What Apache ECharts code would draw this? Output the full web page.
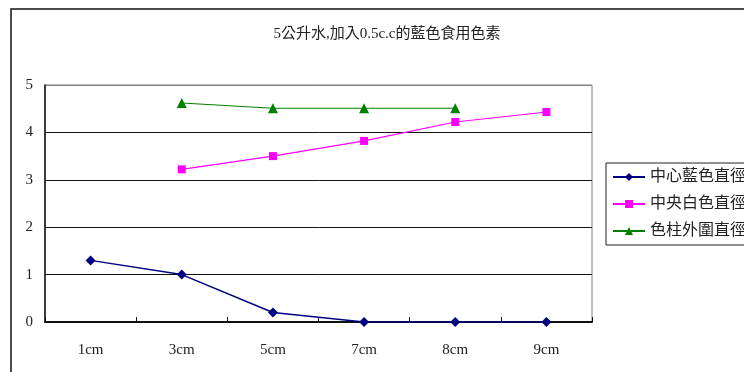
<!DOCTYPE html>
<html>
<head>
<meta charset="utf-8">
<script src="https://cdn.jsdelivr.net/npm/echarts@6/dist/echarts.min.js"></script>
<style>
  html, body { margin: 0; padding: 0; background: #fff; }
  #chart { width: 744px; height: 372px; }
</style>
</head>
<body>
<div id="chart"></div>
<script>
// Distance from the drop point, and measured diameters (cm)
const categories = ['1cm', '3cm', '5cm', '7cm', '8cm', '9cm'];
const centerBlue = [1.3, 1.0, 0.2, 0, 0, 0];
const centerWhite = [null, 3.22, 3.5, 3.82, 4.22, 4.43];
const outerRing = [null, 4.62, 4.51, 4.51, 4.51, null];
const yTicks = [0, 1, 2, 3, 4, 5];

const serif = '"Liberation Serif", "Noto Sans CJK TC", serif';
const cjk = '"Liberation Serif", "Noto Sans CJK TC", sans-serif';

const chart = echarts.init(document.getElementById('chart'), null, { renderer: 'canvas' });

chart.setOption({
  backgroundColor: '#fff',
  animation: false,
  title: {
    text: '5公升水,加入0.5c.c的藍色食用色素',
    left: 382,
    top: 22,
    textAlign: 'center',
    textStyle: { fontFamily: cjk, fontSize: 15, fontWeight: 'normal', color: '#222' }
  },
  graphic: [{
    type: 'rect',
    shape: { x: 11, y: 9, width: 900, height: 500 },
    style: { fill: null, stroke: '#111', lineWidth: 1.5 },
    silent: true,
    z: 0
  }],
  legend: {
    orient: 'vertical',
    left: 606,
    top: 163,
    itemWidth: 32,
    itemHeight: 10,
    itemGap: 11,
    padding: [6, 6, 6, 6],
    borderColor: '#222',
    borderWidth: 1,
    textStyle: { fontFamily: cjk, fontSize: 16, color: '#222' },
    data: ['中心藍色直徑', '中央白色直徑', '色柱外圍直徑']
  },
  grid: {
    left: 45, top: 85, right: 152, bottom: 50,
    show: true,
    borderColor: '#808080',
    borderWidth: 1,
    containLabel: false
  },
  xAxis: {
    type: 'category',
    data: categories,
    boundaryGap: true,
    axisLine: { lineStyle: { color: '#111', width: 2 } },
    axisTick: { show: true, inside: true, length: 5, interval: 0, lineStyle: { color: '#111' } },
    axisLabel: { fontFamily: serif, fontSize: 15, color: '#222', margin: 21, interval: 0 }
  },
  yAxis: {
    type: 'value',
    min: yTicks[0],
    max: yTicks[yTicks.length - 1],
    interval: 1,
    axisLine: { show: true, lineStyle: { color: '#111', width: 1.5 } },
    axisTick: { show: false },
    axisLabel: { fontFamily: serif, fontSize: 15, color: '#222', margin: 12 },
    splitLine: {
      show: true,
      lineStyle: { color: ['#111', '#111', '#111', '#111', '#111', '#808080'], width: 1 }
    }
  },
  series: [
    {
      name: '中心藍色直徑',
      type: 'line',
      data: centerBlue,
      color: '#000080',
      symbol: 'diamond',
      symbolSize: 10,
      lineStyle: { width: 1.5, color: '#000080' },
      itemStyle: { color: '#000080' },
      z: 5
    },
    {
      name: '中央白色直徑',
      type: 'line',
      data: centerWhite,
      color: '#FF00FF',
      symbol: 'rect',
      symbolSize: 8,
      lineStyle: { width: 1.2, color: '#FF00FF' },
      itemStyle: { color: '#FF00FF' },
      z: 4
    },
    {
      name: '色柱外圍直徑',
      type: 'line',
      data: outerRing,
      color: '#008000',
      symbol: 'triangle',
      symbolSize: 10,
      lineStyle: { width: 1.2, color: '#008000' },
      itemStyle: { color: '#008000' },
      z: 4
    }
  ]
});
</script>
</body>
</html>
